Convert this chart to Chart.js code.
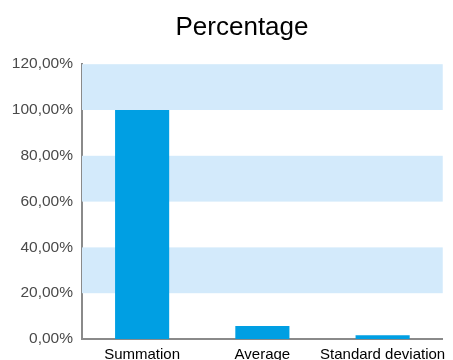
<!DOCTYPE html>
<html>
<head>
<meta charset="utf-8">
<script src="https://cdn.jsdelivr.net/npm/chart.js@4/dist/chart.umd.min.js"></script>
<style>
  html, body { margin: 0; padding: 0; background: #fff; }
  #wrap { width: 453px; height: 360px; }
</style>
</head>
<body>
<div id="wrap"><canvas id="chart"></canvas></div>
<script>
// data
const categories = ['Summation', 'Average', 'Standard deviation'];
const percentValues = [100, 5.7, 1.6];
const yMin = 0;
const yMax = 120;
const yStep = 20;

// alternating light blue bands behind the bars
const bandPlugin = {
    id: 'bands',
    beforeDatasetsDraw(chart) {
        const ctx = chart.ctx;
        const area = chart.chartArea;
        const y = chart.scales.y;
        ctx.save();
        ctx.fillStyle = '#d3eafb';
        for (let v = yMin + yStep; v < yMax; v += yStep * 2) {
            const top = y.getPixelForValue(v + yStep);
            const bottom = y.getPixelForValue(v);
            ctx.fillRect(area.left, top, area.right - area.left, bottom - top);
        }
        ctx.restore();
    }
};

// the title in the original sits a bit right of the canvas centre
const titleShift = {
    id: 'titleShift',
    afterLayout(chart) {
        if (chart.titleBlock) chart.titleBlock.left = 36;
    }
};

new Chart(document.getElementById('chart'), {
    type: 'bar',
    data: {
        labels: categories,
        datasets: [{
            label: 'Percentage',
            data: percentValues,
            backgroundColor: '#009fe3',
            borderWidth: 0,
            barPercentage: 0.45,
            categoryPercentage: 1
        }]
    },
    options: {
        responsive: true,
        maintainAspectRatio: false,
        animation: false,
        layout: { padding: { left: 0, right: 5, top: 0, bottom: 0 } },
        plugins: {
            legend: { display: false },
            tooltip: { enabled: false },
            title: {
                display: true,
                text: 'Percentage',
                color: '#000',
                font: { family: 'Liberation Sans, Arial, sans-serif', size: 26, weight: 'normal' },
                padding: { top: 12, bottom: 21 }
            }
        },
        scales: {
            x: {
                grid: { display: false, drawTicks: false },
                border: { display: true, color: '#8a8a8a', width: 2 },
                ticks: {
                    color: '#000',
                    padding: 7,
                    maxRotation: 0,
                    autoSkip: false,
                    font: { family: 'Liberation Sans, Arial, sans-serif', size: 15 }
                },
                afterFit(scale) { scale.height = 21; }
            },
            y: {
                min: yMin,
                max: yMax,
                grid: { display: false, drawTicks: false },
                border: { display: true, color: '#8a8a8a', width: 2 },
                ticks: {
                    stepSize: yStep,
                    color: '#4a4a4a',
                    padding: 9,
                    font: { family: 'Liberation Sans, Arial, sans-serif', size: 15.5 },
                    callback: v => v.toFixed(2).replace('.', ',') + '%'
                },
                afterFit(scale) { scale.width = 82; }
            }
        }
    },
    plugins: [bandPlugin, titleShift]
});
</script>
</body>
</html>
